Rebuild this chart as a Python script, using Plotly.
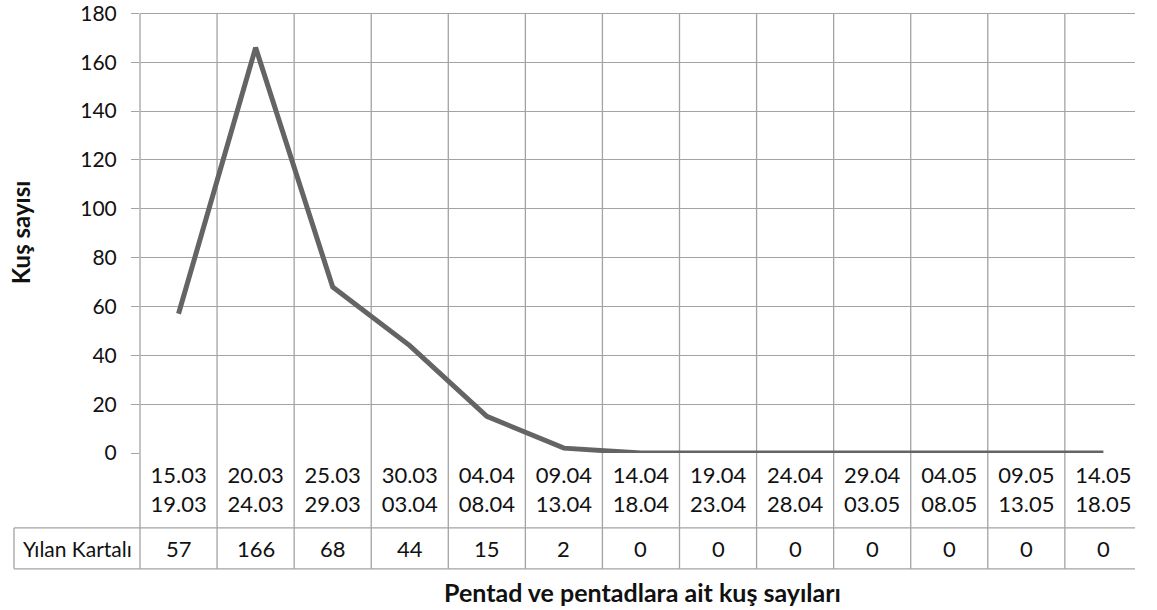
import plotly.graph_objects as go

# Pentad periods (start / end dates) and eagle counts per pentad
pentad_start = ["15.03", "20.03", "25.03", "30.03", "04.04", "09.04", "14.04",
                "19.04", "24.04", "29.04", "04.05", "09.05", "14.05"]
pentad_end = ["19.03", "24.03", "29.03", "03.04", "08.04", "13.04", "18.04",
              "23.04", "28.04", "03.05", "08.05", "13.05", "18.05"]
series_name = "Yılan Kartalı"
counts = [57, 166, 68, 44, 15, 2, 0, 0, 0, 0, 0, 0, 0]
y_ticks = [0, 20, 40, 60, 80, 100, 120, 140, 160, 180]

W, H = 1157, 610
ML, MR, MT, MB = 140, 22, 10.5, 157
plot_h = H - MT - MB
X_RANGE = [-0.5, 12.41]
Y_RANGE = [0, 181]

FONT = "Lato, 'Open Sans', sans-serif"
GRID = "#a3a3a3"
LINE = "#646464"
TEXT = "#111"

xs = list(range(len(counts)))
ticktext = [f"{a}<br>{b}" for a, b in zip(pentad_start, pentad_end)]


def py(pixel_y):
    """Paper y coordinate for a pixel row measured from the top."""
    return (H - MB - pixel_y) / plot_h


fig = go.Figure()
fig.add_trace(go.Scatter(
    x=xs, y=counts, mode="lines", name=series_name,
    line=dict(color=LINE, width=5), showlegend=False,
    hoverinfo="x+y",
))

shapes = []
row_top = py(528)
row_bot = py(569)
grid_top = py(13)
grid_line = dict(color=GRID, width=1.3)
# vertical cell borders: between each pair of pentads, running through the table
for i in range(len(counts) - 1):
    shapes.append(dict(type="line", xref="x", yref="paper",
                       x0=i + 0.5, x1=i + 0.5, y0=row_bot, y1=grid_top,
                       line=grid_line, layer="below"))
# left border of the plot / table body
shapes.append(dict(type="line", xref="paper", yref="paper",
                   x0=0, x1=0, y0=row_bot, y1=grid_top,
                   line=grid_line, layer="below"))
# series row label box
label_left = (14 - ML) / (W - ML - MR)
for yy in (row_top, row_bot):
    shapes.append(dict(type="line", xref="paper", yref="paper",
                       x0=label_left, x1=1, y0=yy, y1=yy,
                       line=grid_line, layer="below"))
shapes.append(dict(type="line", xref="paper", yref="paper",
                   x0=label_left, x1=label_left, y0=row_bot, y1=row_top,
                   line=grid_line, layer="below"))

annotations = []
row_mid = (row_top + row_bot) / 2
for x, v in zip(xs, counts):
    annotations.append(dict(x=x, y=row_mid, xref="x", yref="paper",
                            text=str(v), showarrow=False,
                            font=dict(family=FONT, size=22, color=TEXT),
                            xanchor="center", yanchor="middle"))
annotations.append(dict(x=label_left / 2, y=row_mid, xref="paper", yref="paper",
                        text=series_name, showarrow=False,
                        font=dict(family=FONT, size=21, color=TEXT),
                        xanchor="center", yanchor="middle"))
annotations.append(dict(x=(642 - ML) / (W - ML - MR), y=py(592),
                        xref="paper", yref="paper",
                        text="<b>Pentad ve pentadlara ait kuş sayıları</b>",
                        showarrow=False,
                        font=dict(family=FONT, size=25, color=TEXT),
                        xanchor="center", yanchor="middle"))
annotations.append(dict(x=(20 - ML) / (W - ML - MR), y=py(232),
                        xref="paper", yref="paper",
                        text="<b>Kuş sayısı</b>", showarrow=False, textangle=-90,
                        font=dict(family=FONT, size=24, color=TEXT),
                        xanchor="center", yanchor="middle"))

fig.update_layout(
    width=W, height=H,
    margin=dict(l=ML, r=MR, t=MT, b=MB),
    paper_bgcolor="white", plot_bgcolor="white",
    font=dict(family=FONT, color=TEXT),
    shapes=shapes, annotations=annotations,
    xaxis=dict(range=X_RANGE, tickmode="array", tickvals=xs, ticktext=ticktext,
               showgrid=False, zeroline=False, showline=False, ticks="",
               tickfont=dict(family=FONT, size=22, color=TEXT),
               ticklabelstandoff=7, automargin=False, fixedrange=True),
    yaxis=dict(range=Y_RANGE, tickmode="array", tickvals=y_ticks,
               showgrid=True, gridcolor=GRID, gridwidth=1.3,
               zeroline=False, showline=False,
               ticks="outside", ticklen=8, tickcolor=GRID, tickwidth=1.3,
               tickfont=dict(family=FONT, size=21, color=TEXT),
               ticklabeloverflow="allow",
               ticklabelstandoff=10, automargin=False, fixedrange=True),
)

fig.write_html("out.html")
